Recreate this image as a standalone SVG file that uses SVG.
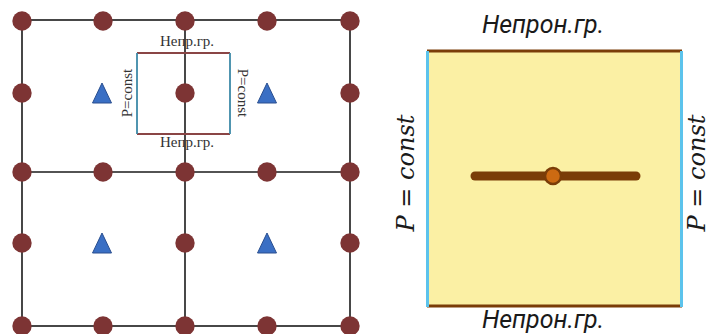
<svg xmlns="http://www.w3.org/2000/svg" width="710" height="334" viewBox="0 0 710 334">
<defs>
<style>
.grid{stroke:#1a1a1a;stroke-width:1.6;fill:none}
.node{fill:#7d3434}
.tri{fill:#3a6fc4;stroke:#2a4f8f;stroke-width:1}
.lbl{font-family:"Liberation Serif",serif;font-size:15px;fill:#333}
.imp{stroke:#8a4545;stroke-width:1.8}
.pc{stroke:#3d8aa8;stroke-width:1.8}
.big{font-family:Roboto,"Liberation Sans",sans-serif;font-style:italic;font-size:25px;fill:#1a1a1a}
.math{font-family:"DejaVu Serif","Liberation Serif",serif;font-style:italic;font-size:24px;fill:#1a1a1a}
</style>
<circle id="dot" r="9.7" class="node"/>
<polygon id="tri" points="0,-10 9.5,10 -9.5,10" class="tri"/>
</defs>
<rect width="710" height="334" fill="#fff"/>
<g id="connectors">
<rect x="22" y="20" width="328" height="306" class="grid"/>
<line x1="22" y1="172" x2="350" y2="172" class="grid"/>
<line x1="185" y1="20" x2="185" y2="326" class="grid"/>
</g>
<g id="cell">
<line x1="137" y1="53" x2="230" y2="53" class="imp"/>
<line x1="137" y1="134" x2="230" y2="134" class="imp"/>
<line x1="137" y1="53" x2="137" y2="134" class="pc"/>
<line x1="230" y1="53" x2="230" y2="134" class="pc"/>
<text x="187" y="46" text-anchor="middle" class="lbl">Непр.гр.</text>
<text x="187" y="147" text-anchor="middle" class="lbl">Непр.гр.</text>
<text transform="translate(132,93) rotate(-90)" text-anchor="middle" class="lbl">P=const</text>
<text transform="translate(238,93) rotate(90)" text-anchor="middle" class="lbl">P=const</text>
</g>
<g id="nodes">
<use href="#dot" x="22" y="21"/><use href="#dot" x="103" y="21"/><use href="#dot" x="185" y="21"/><use href="#dot" x="267" y="21"/><use href="#dot" x="350" y="21"/>
<use href="#dot" x="22" y="93"/><use href="#dot" x="185" y="93"/><use href="#dot" x="350" y="93"/>
<use href="#dot" x="22" y="172"/><use href="#dot" x="103" y="172"/><use href="#dot" x="185" y="172"/><use href="#dot" x="267" y="172"/><use href="#dot" x="350" y="172"/>
<use href="#dot" x="22" y="243"/><use href="#dot" x="185" y="243"/><use href="#dot" x="350" y="243"/>
<use href="#dot" x="22" y="326"/><use href="#dot" x="103" y="326"/><use href="#dot" x="185" y="326"/><use href="#dot" x="267" y="326"/><use href="#dot" x="350" y="326"/>
</g>
<g id="triangles">
<use href="#tri" x="102" y="93"/><use href="#tri" x="267" y="93"/>
<use href="#tri" x="102" y="243"/><use href="#tri" x="267" y="243"/>
</g>
<g id="model">
<rect x="427" y="51" width="255" height="255" fill="#fbf0a4"/>
<line x1="427" y1="51" x2="682" y2="51" stroke="#7a3d08" stroke-width="3"/>
<line x1="427" y1="306" x2="682" y2="306" stroke="#7a3d08" stroke-width="3"/>
<line x1="427.5" y1="51" x2="427.5" y2="307" stroke="#5cc3ec" stroke-width="3"/>
<line x1="681.5" y1="51" x2="681.5" y2="307" stroke="#5cc3ec" stroke-width="3"/>
<line x1="475" y1="176" x2="636" y2="176" stroke="#7a3d08" stroke-width="9" stroke-linecap="round"/>
<circle cx="553" cy="176" r="8" fill="#cc6a12" stroke="#7a3d08" stroke-width="2.5"/>
<text x="543" y="33" text-anchor="middle" class="big">Непрон.гр.</text>
<text x="543" y="328" text-anchor="middle" class="big">Непрон.гр.</text>
<text transform="translate(414,173) rotate(-90)" text-anchor="middle" class="math">P = const</text>
<text transform="translate(705,173) rotate(-90)" text-anchor="middle" class="math">P = const</text>
</g>
</svg>
